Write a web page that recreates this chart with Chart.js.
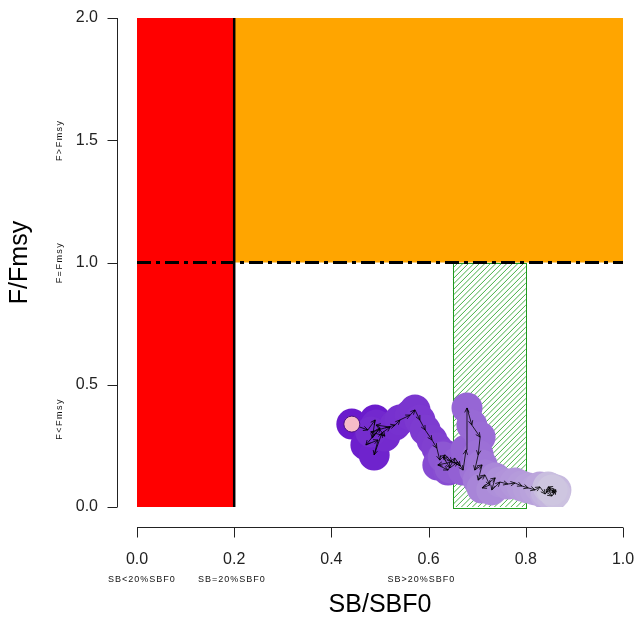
<!DOCTYPE html>
<html>
<head>
<meta charset="utf-8">
<script src="https://cdn.jsdelivr.net/npm/chart.js@4.4.1/dist/chart.umd.min.js"></script>
<style>
  html, body { margin: 0; padding: 0; background: #fff; }
  #wrap { width: 634px; height: 624px; }
</style>
</head>
<body>
<div id="wrap"><canvas id="kobe"></canvas></div>
<script>
// stock trajectory, first point = start year
const sbRatio = [0.442, 0.475, 0.490, 0.484, 0.500, 0.471, 0.496, 0.488, 0.504, 0.521,
                 0.492, 0.510, 0.481, 0.531, 0.541, 0.562, 0.572, 0.582, 0.593, 0.607,
                 0.617, 0.623, 0.634, 0.648, 0.619, 0.640, 0.654, 0.665, 0.630, 0.644,
                 0.660, 0.671, 0.677, 0.679, 0.689, 0.706, 0.702, 0.695, 0.710, 0.702,
                 0.716, 0.726, 0.710, 0.737, 0.730, 0.747, 0.763, 0.778, 0.792, 0.805,
                 0.819, 0.829, 0.840, 0.850, 0.842, 0.854, 0.862, 0.846, 0.860, 0.854];
const fRatio = [0.339, 0.315, 0.356, 0.282, 0.323, 0.254, 0.274, 0.213, 0.303, 0.327,
                0.335, 0.290, 0.307, 0.335, 0.356, 0.376, 0.397, 0.356, 0.315, 0.274,
                0.241, 0.192, 0.213, 0.184, 0.172, 0.151, 0.200, 0.168, 0.204, 0.160,
                0.184, 0.151, 0.233, 0.405, 0.335, 0.286, 0.213, 0.151, 0.172, 0.110,
                0.131, 0.090, 0.078, 0.119, 0.070, 0.102, 0.094, 0.098, 0.086, 0.078,
                0.070, 0.082, 0.053, 0.078, 0.061, 0.045, 0.070, 0.082, 0.057, 0.070];

const xTicks = [0, 0.2, 0.4, 0.6, 0.8, 1.0];
const yTicks = [0, 0.5, 1.0, 1.5, 2.0];

// zones as [x0, x1, y0, y1]
const redZone = [0, 0.2, 0, 2];
const orangeZone = [0.2, 1.0, 1, 2];
const hatchZone = [0.65, 0.8, 0, 1];
const fmsyLevel = 1.0;
const sbLimit = 0.2;

const yZoneLabels = ['F>Fmsy', 'F=Fmsy', 'F<Fmsy'];
const yZoneLabelAt = [1.5, 1.0, 0.36];
const xZoneLabels = ['SB<20%SBF0', 'SB=20%SBF0', 'SB>20%SBF0'];
const xZoneLabelAt = [0.01, 0.195, 0.585];

const FONT = '"Liberation Sans", Arial, sans-serif';

// dark violet at the start fading to lavender at the end
const startCol = [106, 26, 204];
const endCol = [206, 198, 224];
const pointColors = sbRatio.map((_, i) => {
  const t = Math.pow(i / (sbRatio.length - 1), 1.4);
  const c = startCol.map((s, k) => Math.round(s + (endCol[k] - s) * t));
  return `rgb(${c[0]},${c[1]},${c[2]})`;
});

const track = sbRatio.map((v, i) => ({ x: v, y: fRatio[i] }));

const zonePlugin = {
  id: 'zones',
  beforeDatasetsDraw(chart) {
    const { ctx, scales: { x, y } } = chart;
    const box = z => {
      const l = x.getPixelForValue(z[0]), r = x.getPixelForValue(z[1]);
      const t = y.getPixelForValue(z[3]), b = y.getPixelForValue(z[2]);
      return [l, t, r - l, b - t];
    };
    ctx.save();
    ctx.fillStyle = '#ff0000';
    ctx.fillRect(...box(redZone));
    ctx.fillStyle = '#ffa500';
    ctx.fillRect(...box(orangeZone));

    // hatched box: diagonal strokes clipped to the rectangle
    const h = box(hatchZone);
    ctx.save();
    ctx.beginPath();
    ctx.rect(h[0], h[1], h[2], h[3]);
    ctx.clip();
    ctx.strokeStyle = '#47ae47';
    ctx.lineWidth = 1;
    ctx.beginPath();
    const step = 5.5;
    for (let d = -h[3]; d < h[2] + h[3]; d += step) {
      ctx.moveTo(h[0] + d, h[1] + h[3]);
      ctx.lineTo(h[0] + d + h[3], h[1]);
    }
    ctx.stroke();
    ctx.restore();

    ctx.strokeStyle = '#1f9a1f';
    ctx.lineWidth = 1;
    ctx.strokeRect(Math.round(h[0]) + 0.5, Math.round(h[1]) + 0.5, Math.round(h[2]), Math.round(h[3]));
    ctx.restore();
  }
};

// little arrow heads on every step of the trajectory
const arrowPlugin = {
  id: 'arrows',
  afterDatasetDraw(chart, args) {
    if (args.meta.label !== 'track') return;
    const { ctx } = chart;
    const pts = args.meta.data;
    ctx.save();
    ctx.strokeStyle = '#000';
    ctx.lineWidth = 0.8;
    ctx.beginPath();
    for (let i = 1; i < pts.length; i++) {
      const a = pts[i - 1], b = pts[i];
      const ang = Math.atan2(b.y - a.y, b.x - a.x);
      const len = 5;
      for (const s of [-0.45, 0.45]) {
        ctx.moveTo(b.x, b.y);
        ctx.lineTo(b.x - len * Math.cos(ang + s), b.y - len * Math.sin(ang + s));
      }
    }
    ctx.stroke();
    ctx.restore();
  }
};

const axisPlugin = {
  id: 'rAxes',
  afterDraw(chart) {
    const { ctx, chartArea, scales: { x, y } } = chart;
    const gap = 20, tl = 10;
    ctx.save();
    ctx.strokeStyle = '#222';
    ctx.lineWidth = 1;
    ctx.beginPath();
    const ax = Math.round(chartArea.left - gap) + 0.5;
    ctx.moveTo(ax, y.getPixelForValue(yTicks[0]));
    ctx.lineTo(ax, y.getPixelForValue(yTicks[yTicks.length - 1]));
    yTicks.forEach(v => {
      const p = Math.round(y.getPixelForValue(v)) + 0.5;
      ctx.moveTo(ax, p); ctx.lineTo(ax - tl, p);
    });
    const ay = Math.round(chartArea.bottom + gap) + 0.5;
    ctx.moveTo(x.getPixelForValue(xTicks[0]), ay);
    ctx.lineTo(x.getPixelForValue(xTicks[xTicks.length - 1]), ay);
    xTicks.forEach(v => {
      const p = Math.round(x.getPixelForValue(v)) + 0.5;
      ctx.moveTo(p, ay); ctx.lineTo(p, ay + tl);
    });
    ctx.stroke();

    ctx.fillStyle = '#111';
    ctx.font = '9px ' + FONT;
    ctx.textAlign = 'center';
    ctx.textBaseline = 'middle';
    ctx.letterSpacing = '1.5px';
    yZoneLabels.forEach((t, i) => {
      ctx.save();
      ctx.translate(60, y.getPixelForValue(yZoneLabelAt[i]));
      ctx.rotate(-Math.PI / 2);
      ctx.fillText(t, 0, 0);
      ctx.restore();
    });
    ctx.letterSpacing = '1px';
    xZoneLabels.forEach((t, i) => {
      ctx.fillText(t, x.getPixelForValue(xZoneLabelAt[i]), 580);
    });
    ctx.restore();
  }
};

new Chart(document.getElementById('kobe'), {
  type: 'scatter',
  data: {
    datasets: [{
      label: 'start',
      data: [track[0]],
      pointRadius: 8,
      pointHoverRadius: 8,
      backgroundColor: '#f7bcc8',
      borderColor: '#4a1280',
      borderWidth: 1
    }, {
      label: 'track',
      type: 'line',
      data: track,
      showLine: true,
      borderColor: '#000',
      borderWidth: 0.8,
      pointRadius: 0,
      pointHoverRadius: 0,
      fill: false,
      tension: 0
    }, {
      label: 'years',
      data: track,
      pointRadius: 15.5,
      pointHoverRadius: 15.5,
      backgroundColor: pointColors,
      borderWidth: 0
    }, {
      label: 'Fmsy',
      type: 'line',
      data: [{ x: xTicks[0], y: fmsyLevel }, { x: xTicks[xTicks.length - 1], y: fmsyLevel }],
      borderColor: '#000',
      borderWidth: 3,
      borderDash: [14, 5, 4, 5],
      pointRadius: 0,
      fill: false
    }, {
      label: 'SB limit',
      type: 'line',
      data: [{ x: sbLimit, y: yTicks[0] }, { x: sbLimit, y: yTicks[yTicks.length - 1] }],
      borderColor: '#000',
      borderWidth: 2.5,
      pointRadius: 0,
      fill: false
    }]
  },
  options: {
    responsive: true,
    maintainAspectRatio: false,
    animation: false,
    events: [],
    layout: { autoPadding: false, padding: { top: 18, right: 11, left: 0, bottom: 0 } },
    plugins: { legend: { display: false }, tooltip: { enabled: false } },
    scales: {
      x: {
        type: 'linear',
        min: 0, max: 1,
        afterFit: s => { s.height = 117; s.paddingLeft = 0; s.paddingRight = 0; },
        afterBuildTicks: s => { s.ticks = xTicks.map(v => ({ value: v })); },
        grid: { display: false, drawTicks: false },
        border: { display: false },
        ticks: {
          padding: 43,
          color: '#222',
          font: { family: FONT, size: 16 },
          callback: v => Number(v).toFixed(1)
        },
        title: {
          display: true,
          text: 'SB/SBF0',
          color: '#000',
          font: { family: FONT, size: 25 },
          padding: { top: 0, bottom: 4 }
        }
      },
      y: {
        type: 'linear',
        min: 0, max: 2,
        afterFit: s => { s.width = 137; s.paddingTop = 0; s.paddingBottom = 0; },
        afterBuildTicks: s => { s.ticks = yTicks.map(v => ({ value: v })); },
        grid: { display: false, drawTicks: false },
        border: { display: false },
        ticks: {
          padding: 39,
          color: '#222',
          font: { family: FONT, size: 16 },
          callback: v => Number(v).toFixed(1)
        },
        title: {
          display: true,
          text: 'F/Fmsy',
          color: '#000',
          font: { family: FONT, size: 25 },
          padding: { top: 5, bottom: 0 }
        }
      }
    }
  },
  plugins: [zonePlugin, arrowPlugin, axisPlugin]
});
</script>
</body>
</html>
